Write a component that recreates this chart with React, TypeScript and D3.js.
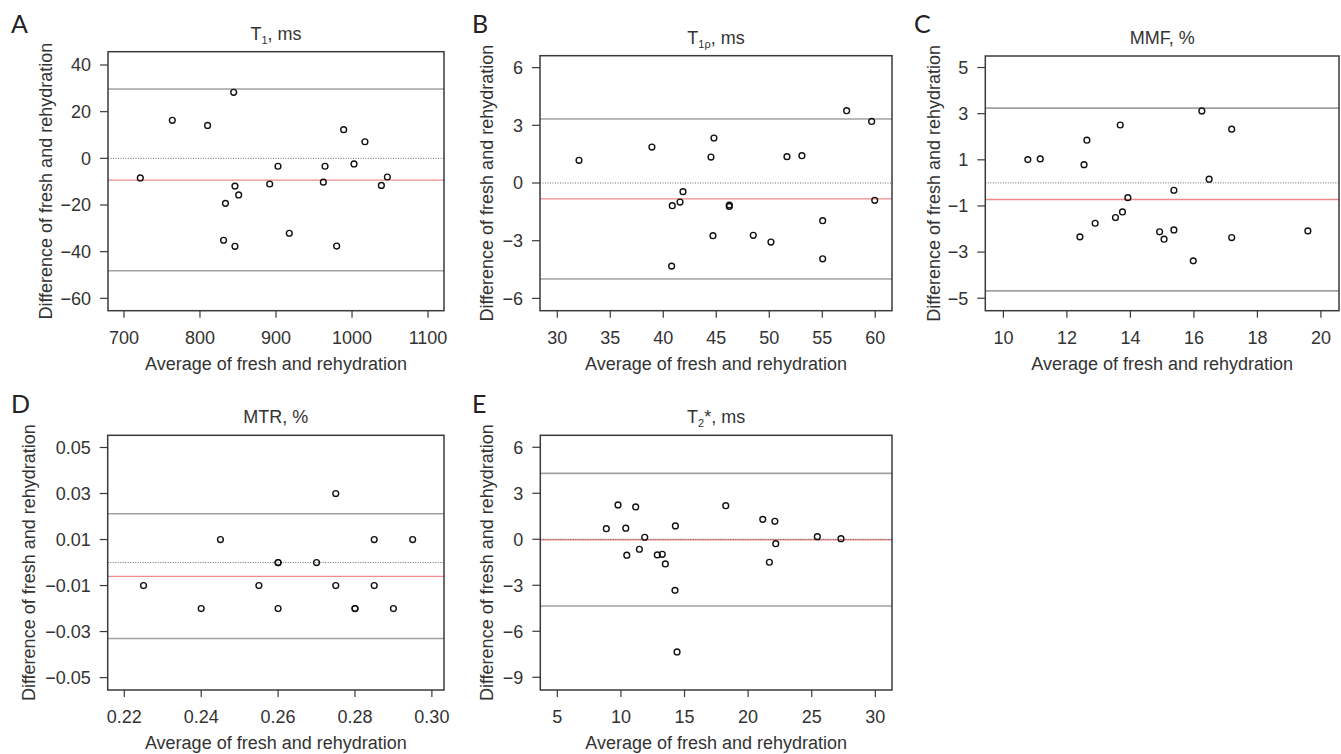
import React from "react";
import * as d3 from "d3";

// ---------- DATA ----------
// Panel A: T1, ms
const aAvg = [721.5, 763.6, 810, 844.3, 846, 850.9, 833.5, 831, 846, 891.7, 902.6, 917.5, 962.3, 964.5, 979.8, 989, 1002.6, 1017, 1038.6, 1046.5];
const aDiff = [-8.4, 16.3, 14.1, 28.3, -11.9, -15.7, -19.3, -35.1, -37.7, -11.0, -3.4, -32.1, -10.2, -3.4, -37.6, 12.3, -2.4, 7.1, -11.6, -8.0];
const aLimits = [29.7, -9.3, -48.2]; // upper LoA, mean, lower LoA
const aXTicks = [700, 800, 900, 1000, 1100];
const aYTicks = [-60, -40, -20, 0, 20, 40];

// Panel B: T1rho, ms
const bAvg = [32.05, 38.93, 40.85, 41.58, 41.86, 40.79, 44.5, 44.78, 44.69, 46.23, 46.23, 48.49, 50.16, 51.67, 53.08, 55.04, 55.04, 57.3, 59.66, 59.95];
const bDiff = [1.18, 1.87, -1.18, -0.99, -0.45, -4.32, 1.35, 2.34, -2.74, -1.15, -1.22, -2.72, -3.07, 1.37, 1.42, -1.96, -3.94, 3.76, 3.2, -0.9];
const bLimits = [3.33, -0.83, -4.99];
const bXTicks = [30, 35, 40, 45, 50, 55, 60];
const bYTicks = [-6, -3, 0, 3, 6];

// Panel C: MMF, %
const cAvg = [10.77, 11.16, 12.41, 12.54, 12.63, 12.89, 13.53, 13.68, 13.75, 13.92, 14.92, 15.06, 15.37, 15.37, 15.98, 16.25, 16.48, 17.19, 17.19, 19.59];
const cDiff = [1.01, 1.04, -2.34, 0.79, 1.85, -1.75, -1.5, 2.51, -1.26, -0.64, -2.12, -2.44, -0.32, -2.04, -3.38, 3.12, 0.16, 2.33, -2.37, -2.08];
const cLimits = [3.24, -0.72, -4.68];
const cXTicks = [10, 12, 14, 16, 18, 20];
const cYTicks = [-5, -3, -1, 1, 3, 5];

// Panel D: MTR, %
const dAvg = [0.225, 0.24, 0.245, 0.255, 0.26, 0.26, 0.26, 0.27, 0.275, 0.275, 0.28, 0.28, 0.285, 0.285, 0.29, 0.295];
const dDiff = [-0.01, -0.02, 0.01, -0.01, 0, 0, -0.02, 0, 0.03, -0.01, -0.02, -0.02, 0.01, -0.01, -0.02, 0.01];
const dLimits = [0.0212, -0.006, -0.033];
const dXTicks = [0.22, 0.24, 0.26, 0.28, 0.3];
const dYTicks = [-0.05, -0.03, -0.01, 0.01, 0.03, 0.05];

// Panel E: T2*, ms
const eAvg = [8.85, 9.77, 10.38, 10.46, 11.16, 11.45, 11.87, 12.86, 13.25, 13.49, 14.28, 14.25, 14.41, 18.24, 21.15, 22.1, 22.17, 21.67, 25.44, 27.3];
const eDiff = [0.69, 2.24, 0.72, -1.04, 2.11, -0.65, 0.13, -1.02, -0.98, -1.61, 0.87, -3.33, -7.35, 2.19, 1.3, 1.17, -0.29, -1.5, 0.17, 0.04];
const eLimits = [4.3, -0.03, -4.35];
const eXTicks = [5, 10, 15, 20, 25, 30];
const eYTicks = [-9, -6, -3, 0, 3, 6];

const xTitle = "Average of fresh and rehydration";
const yTitle = "Difference of fresh and rehydration";

// ---------- LAYOUT ----------
type Panel = {
  letter: string;
  title: React.ReactNode;
  xs: number[];
  ys: number[];
  limits: number[];
  xTicks: number[];
  yTicks: number[];
  fmt: (v: number) => string;
  box: [number, number, number, number]; // x0, x1, y0, y1
  xDomain: [number, number];
  yDomain: [number, number];
  letterPos: [number, number];
  yTitleOffset: number;
};

const intFmt = (v: number) => d3.format("d")(v).replace("-", "\u2212");
const dFmt = (v: number) => d3.format(".2f")(v).replace("-", "\u2212");

const sub = (s: string) => (
  <tspan fontSize={11} dy={4}>{s}</tspan>
);

const panels: Panel[] = [
  {
    letter: "A",
    title: (<>T{sub("1")}<tspan dy={-4}>, ms</tspan></>),
    xs: aAvg, ys: aDiff, limits: aLimits, xTicks: aXTicks, yTicks: aYTicks, fmt: intFmt,
    box: [108, 444, 51.7, 310.7], xDomain: [679, 1121], yDomain: [-65.3, 45.7],
    letterPos: [11, 33.3], yTitleOffset: 56,
  },
  {
    letter: "B",
    title: (<>T{sub("1\u03c1")}<tspan dy={-4}>, ms</tspan></>),
    xs: bAvg, ys: bDiff, limits: bLimits, xTicks: bXTicks, yTicks: bYTicks, fmt: intFmt,
    box: [540, 892, 55.7, 310.7], xDomain: [28.37, 61.58], yDomain: [-6.64, 6.62],
    letterPos: [472, 33.3], yTitleOffset: 47,
  },
  {
    letter: "C",
    title: "MMF, %",
    xs: cAvg, ys: cDiff, limits: cLimits, xTicks: cXTicks, yTicks: cYTicks, fmt: intFmt,
    box: [985.3, 1339, 56, 310.7], xDomain: [9.43, 20.57], yDomain: [-5.54, 5.5],
    letterPos: [914, 33.3], yTitleOffset: 45,
  },
  {
    letter: "D",
    title: "MTR, %",
    xs: dAvg, ys: dDiff, limits: dLimits, xTicks: dXTicks, yTicks: dYTicks, fmt: dFmt,
    box: [107.7, 444, 435.3, 690], xDomain: [0.21568, 0.30315], yDomain: [-0.0554, 0.0553],
    letterPos: [11, 413.3], yTitleOffset: 73,
  },
  {
    letter: "E",
    title: (<>T{sub("2")}<tspan dy={-4}>*, ms</tspan></>),
    xs: eAvg, ys: eDiff, limits: eLimits, xTicks: eXTicks, yTicks: eYTicks, fmt: intFmt,
    box: [540.3, 892, 435.3, 690], xDomain: [3.66, 31.31], yDomain: [-9.83, 6.78],
    letterPos: [472, 413.3], yTitleOffset: 47,
  },
];

const FONT = "'Liberation Sans', Arial, Helvetica, sans-serif";
const TEXT = "#333";

function PanelView({ p }: { p: Panel }) {
  const [x0, x1, y0, y1] = p.box;
  const x = d3.scaleLinear().domain(p.xDomain).range([x0, x1]);
  const y = d3.scaleLinear().domain(p.yDomain).range([y1, y0]);
  const cx = (x0 + x1) / 2;
  const cy = (y0 + y1) / 2;
  const [upper, mean, lower] = p.limits;
  return (
    <g>
      <text x={p.letterPos[0]} y={p.letterPos[1]} fontFamily="Lato, 'Open Sans', sans-serif" fontSize={25} fill="#222">
        {p.letter}
      </text>
      <text x={cx} y={y0 - 12} textAnchor="middle" fontSize={18} fill={TEXT}>
        {p.title}
      </text>
      {/* reference lines */}
      <line x1={x0} x2={x1} y1={y(upper)} y2={y(upper)} stroke="#a0a0a0" strokeWidth={1.6} />
      <line x1={x0} x2={x1} y1={y(lower)} y2={y(lower)} stroke="#a0a0a0" strokeWidth={1.6} />
      <line x1={x0} x2={x1} y1={y(mean)} y2={y(mean)} stroke="#f08a8a" strokeWidth={1.3} />
      <line x1={x0} x2={x1} y1={y(0)} y2={y(0)} stroke="#666" strokeWidth={1} strokeDasharray="1,1.5" />
      {/* points */}
      {p.xs.map((v, i) => (
        <circle key={i} cx={x(v)} cy={y(p.ys[i])} r={2.9} fill="none" stroke="#111" strokeWidth={1.4} />
      ))}
      {/* box */}
      <rect x={x0} y={y0} width={x1 - x0} height={y1 - y0} fill="none" stroke="#3a3a3a" strokeWidth={1.5} />
      {/* y axis */}
      {p.yTicks.map((t) => (
        <g key={"y" + t}>
          <line x1={x0 - 8} x2={x0} y1={y(t)} y2={y(t)} stroke="#3a3a3a" strokeWidth={1.2} />
          <text x={x0 - 17} y={y(t)} dy="0.35em" textAnchor="end" fontSize={18} fill={TEXT}>
            {p.fmt(t)}
          </text>
        </g>
      ))}
      {/* x axis */}
      {p.xTicks.map((t) => (
        <g key={"x" + t}>
          <line x1={x(t)} x2={x(t)} y1={y1} y2={y1 + 7} stroke="#3a3a3a" strokeWidth={1.2} />
          <text x={x(t)} y={y1 + 33} textAnchor="middle" fontSize={18} fill={TEXT}>
            {p.fmt(t)}
          </text>
        </g>
      ))}
      <text x={cx} y={y1 + 59} textAnchor="middle" fontSize={18} fill={TEXT}>
        {xTitle}
      </text>
      <text
        transform={`translate(${x0 - p.yTitleOffset},${cy}) rotate(-90)`}
        textAnchor="middle"
        fontSize={18}
        fill={TEXT}
      >
        {yTitle}
      </text>
    </g>
  );
}

export default function App() {
  return (
    <svg
      width={1341}
      height={754}
      viewBox="0 0 1341 754"
      style={{ position: "absolute", left: 0, top: 0, background: "#fff" }}
      fontFamily={FONT}
    >
      <rect x={0} y={0} width={1341} height={754} fill="#fff" />
      {panels.map((p) => (
        <PanelView key={p.letter} p={p} />
      ))}
    </svg>
  );
}
